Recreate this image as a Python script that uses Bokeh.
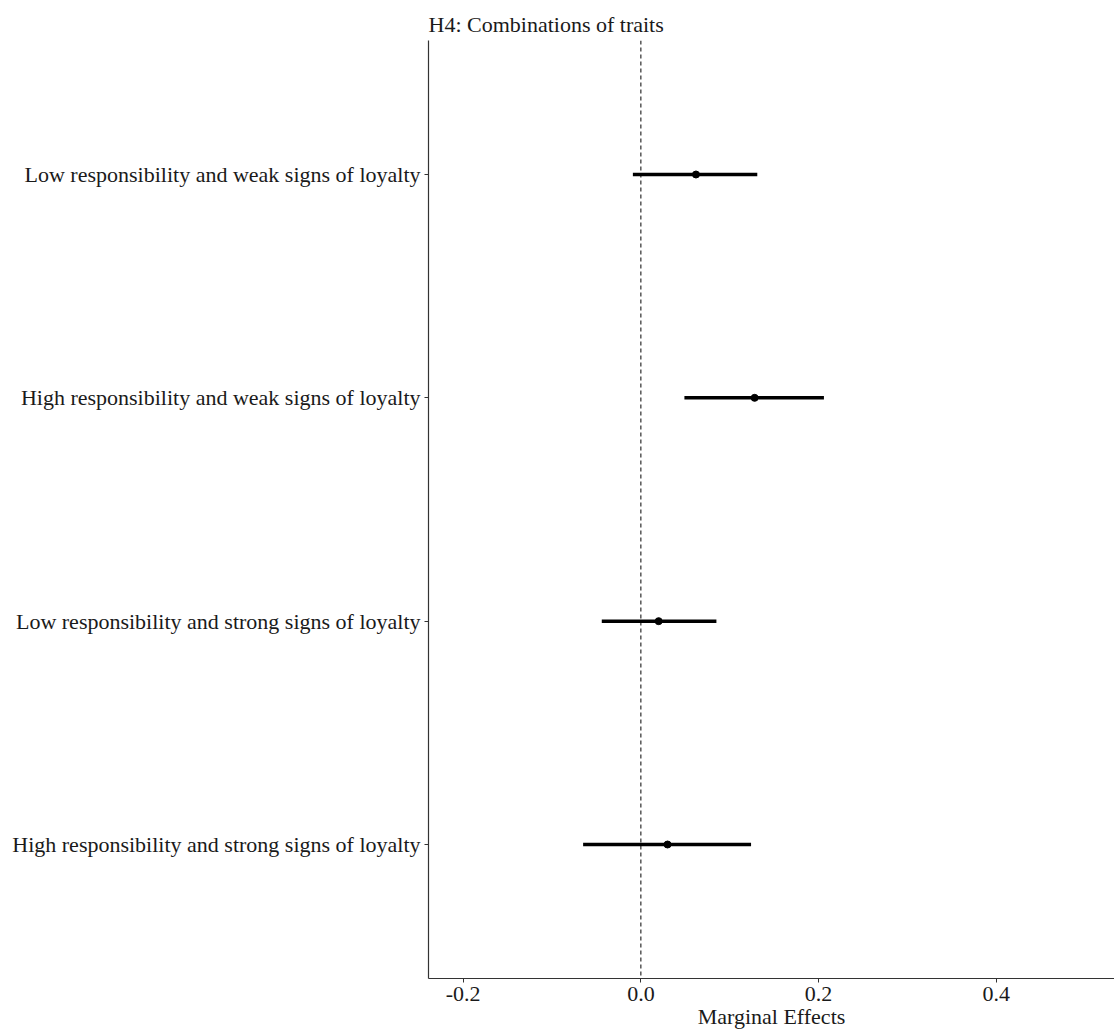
from bokeh.plotting import figure
from bokeh.models import Range1d, Span, FixedTicker
from bokeh.embed import file_html
from bokeh.resources import INLINE

categories = [
    "Low responsibility and weak signs of loyalty",
    "High responsibility and weak signs of loyalty",
    "Low responsibility and strong signs of loyalty",
    "High responsibility and strong signs of loyalty",
]
estimates = [0.062, 0.128, 0.020, 0.030]
ci_low = [-0.009, 0.049, -0.044, -0.065]
ci_high = [0.131, 0.206, 0.085, 0.124]
x_ticks = [-0.2, 0.0, 0.2, 0.4]

n = len(categories)
ypos = [n - i for i in range(n)]

FONT = "Liberation Serif"

p = figure(width=1114, height=1031, output_backend="svg", toolbar_location=None,
           x_range=Range1d(-0.239, 0.533), y_range=Range1d(0.4, n + 0.6),
           title="H4: Combinations of traits",
           min_border_left=428, min_border_right=0, min_border_top=40, min_border_bottom=53)

p.title.text_font = FONT
p.title.text_font_size = "22px"
p.title.text_font_style = "normal"
p.title.text_color = "#1a1a1a"
p.title.align = "left"
p.title.offset = 0
p.title.standoff = 8

p.xgrid.visible = False
p.ygrid.visible = False
p.outline_line_color = None
p.background_fill_color = "white"
p.border_fill_color = "white"

p.add_layout(Span(location=0, dimension="height", line_color="black",
                  line_width=1, line_dash="4 3"))

p.segment(x0=ci_low, x1=ci_high, y0=ypos, y1=ypos, line_color="black", line_width=3.5)
p.scatter(x=estimates, y=ypos, size=7, color="black")

for ax in (p.xaxis[0], p.yaxis[0]):
    ax.axis_line_color = "#333333"
    ax.axis_line_width = 1.2
    ax.major_tick_line_color = "#333333"
    ax.major_tick_in = 0
    ax.major_tick_out = 4
    ax.minor_tick_line_color = None
    ax.major_label_text_font = FONT
    ax.major_label_text_font_size = "22px"
    ax.major_label_text_color = "#1a1a1a"

p.xaxis.ticker = FixedTicker(ticks=x_ticks)
p.xaxis.major_label_overrides = {t: f"{t:.1f}" for t in x_ticks}
p.xaxis.axis_label = "Marginal Effects"
p.xaxis.axis_label_text_font = FONT
p.xaxis.axis_label_text_font_size = "22px"
p.xaxis.axis_label_text_font_style = "normal"
p.xaxis.axis_label_text_color = "#1a1a1a"
p.xaxis.axis_label_standoff = 0
p.xaxis.major_label_standoff = 4

p.yaxis.ticker = FixedTicker(ticks=ypos)
p.yaxis.major_label_overrides = {y: c for y, c in zip(ypos, categories)}
p.yaxis.major_label_standoff = 4

open("out.html", "w").write(file_html(p, INLINE))
